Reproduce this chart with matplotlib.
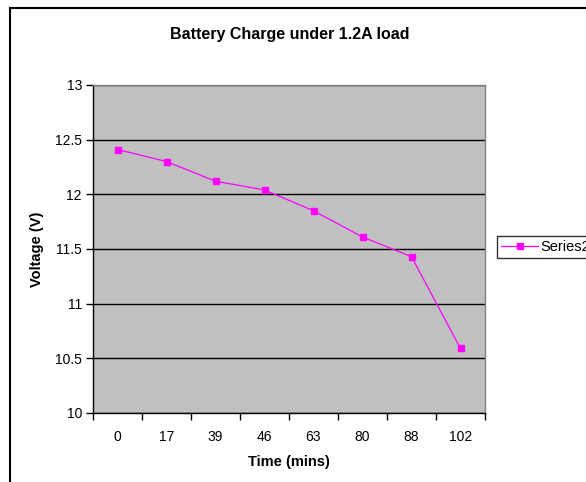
import matplotlib.pyplot as plt
from matplotlib.lines import Line2D

plt.rcParams['font.family'] = ['Liberation Sans', 'DejaVu Sans']

time_labels = ['0', '17', '39', '46', '63', '80', '88', '102']
voltage = [12.41, 12.30, 12.12, 12.04, 11.85, 11.61, 11.43, 10.59]

fig = plt.figure(figsize=(5.86, 4.82), dpi=100)
fig.patch.set_facecolor('white')

# chart frame (left and top edges only, the rest runs off the image)
fig.add_artist(Line2D([10 / 586, 10 / 586], [0, 1 - 8 / 482], transform=fig.transFigure,
                      color='black', lw=1.5))
fig.add_artist(Line2D([10 / 586, 1], [1 - 8 / 482, 1 - 8 / 482], transform=fig.transFigure,
                      color='black', lw=1.5))

ax = fig.add_axes([93 / 586, 69 / 482, 392 / 586, 328 / 482])
ax.set_facecolor('#c0c0c0')

x = list(range(len(time_labels)))
ax.plot(x, voltage, color='#ff00ff', lw=0.9, marker='s', markersize=5,
        markeredgecolor='#ff00ff', label='Series2', zorder=3)

ax.set_xlim(-0.5, len(time_labels) - 0.5)
ax.set_ylim(10, 13)
ax.set_yticks([10, 10.5, 11, 11.5, 12, 12.5, 13])
ax.set_yticklabels(['10', '10.5', '11', '11.5', '12', '12.5', '13'])
ax.grid(axis='y', color='black', lw=1)
ax.set_axisbelow(True)

ax.set_xticks(x)
ax.set_xticklabels(time_labels)
ax.set_xticks([i - 0.5 for i in range(len(time_labels) + 1)], minor=True)
ax.tick_params(axis='x', which='major', length=0, pad=12, labelsize=10)
ax.tick_params(axis='x', which='minor', length=5, width=1, direction='out')
ax.tick_params(axis='y', length=5, width=1, direction='out', labelsize=10, pad=3)

for side in ['top', 'right']:
    ax.spines[side].set_color('#808080')
    ax.spines[side].set_linewidth(1)
for side in ['left', 'bottom']:
    ax.spines[side].set_color('black')
    ax.spines[side].set_linewidth(1)

ax.set_xlabel('Time (mins)', fontsize=10.5, fontweight='bold', labelpad=8)
ax.set_ylabel('Voltage (V)', fontsize=10.5, fontweight='bold', labelpad=8)
fig.text(290 / 586, 1 - 35 / 482, 'Battery Charge under 1.2A load', ha='center', va='center',
         fontsize=11.5, fontweight='bold')

leg = fig.legend(loc='center left', bbox_to_anchor=(497 / 586, 1 - 247 / 482),
                 frameon=True, fancybox=False, fontsize=10.5, handlelength=2.5,
                 borderpad=0.3, handletextpad=0.2, borderaxespad=0)
leg.get_frame().set_edgecolor('black')
leg.get_frame().set_linewidth(1)

fig.savefig('out.png', dpi=100)
